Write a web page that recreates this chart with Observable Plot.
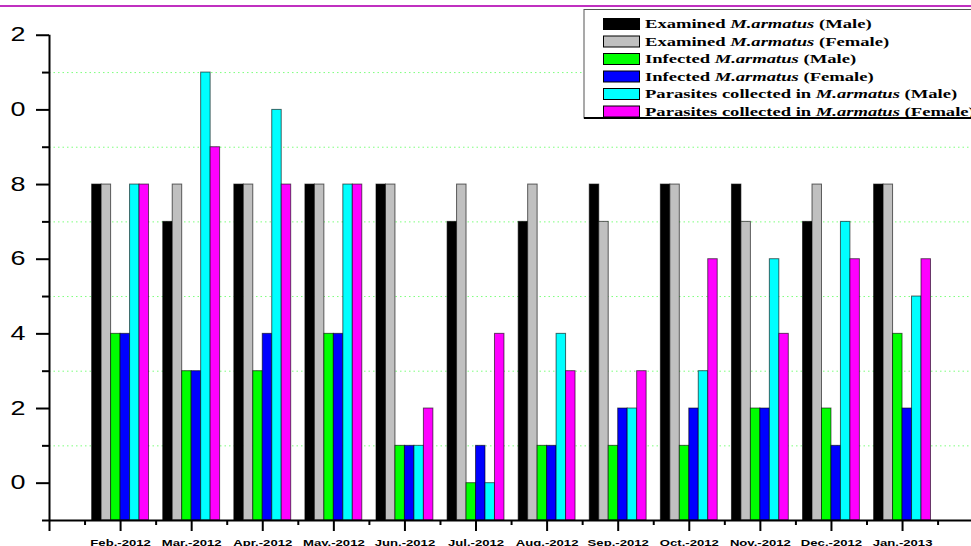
<!DOCTYPE html>
<html>
<head>
<meta charset="utf-8">
<script src="https://cdn.jsdelivr.net/npm/d3@7"></script>
<script src="https://cdn.jsdelivr.net/npm/@observablehq/plot@0.6"></script>
<style>
  html, body { margin: 0; padding: 0; background: #fff; overflow: hidden; }
  #wrap { position: relative; width: 971px; height: 546px; overflow: hidden; background: #fff; }
  #chart svg { display: block; }
  #topline { position: absolute; left: 0; top: 5px; width: 971px; height: 2px; background: #c030c0; }
  #legend { position: absolute; left: 0; top: 0; overflow: visible; }
</style>
</head>
<body>
<div id="wrap">
  <div id="chart"></div>
  <div id="topline"></div>
  <svg id="legend" width="971" height="130"></svg>
</div>
<script>
// ---- data ----
const months = ["Feb.-2012", "Mar.-2012", "Apr.-2012", "May.-2012", "Jun.-2012", "Jul.-2012",
                "Aug.-2012", "Sep.-2012", "Oct.-2012", "Nov.-2012", "Dec.-2012", "Jan.-2013"];
const seriesNames = [
  "Examined M.armatus (Male)",
  "Examined M.armatus (Female)",
  "Infected M.armatus (Male)",
  "Infected M.armatus (Female)",
  "Parasites collected in M.armatus (Male)",
  "Parasites collected in M.armatus (Female)"
];
const seriesColors = ["#000000", "#c0c0c0", "#00ff00", "#0000ff", "#00ffff", "#ff00ff"];
const examinedMale     = [8, 7, 8, 8, 8, 7, 7, 8, 8, 8, 7, 8];
const examinedFemale   = [8, 8, 8, 8, 8, 8, 8, 7, 8, 7, 8, 8];
const infectedMale     = [4, 3, 3, 4, 1, 0, 1, 1, 1, 2, 2, 4];
const infectedFemale   = [4, 3, 4, 4, 1, 1, 1, 2, 2, 2, 1, 2];
const parasitesMale    = [8, 11, 10, 8, 1, 0, 4, 2, 3, 6, 7, 5];
const parasitesFemale  = [8, 9, 8, 8, 2, 4, 3, 3, 6, 4, 6, 6];
const yMajorTicks = [0, 2, 4, 6, 8, 10, 12];
const yMinorTicks = [-1, 1, 3, 5, 7, 9, 11];
const gridValues  = [1, 3, 5, 7, 9, 11];
const species = "M.armatus";

// ---- derived table ----
const seriesValues = [examinedMale, examinedFemale, infectedMale, infectedFemale, parasitesMale, parasitesFemale];
const groupWidth = 0.8;
const barWidth = groupWidth / seriesNames.length;
const rows = months.flatMap((m, i) => seriesValues.map((vals, s) => ({
  month: m,
  series: seriesNames[s],
  x1: i - groupWidth / 2 + s * barWidth,
  x2: i - groupWidth / 2 + (s + 1) * barWidth,
  value: vals[i]
})));
const xMajor = [-1, ...months.map((m, i) => i)];
const xMinor = [-1, ...months.map((m, i) => i)].map(i => i + 0.5);
const yBase = d3.min(yMinorTicks);

const chart = Plot.plot({
  width: 971,
  height: 546,
  marginLeft: 49,
  marginRight: 0,
  marginTop: 6,
  marginBottom: 26,
  x: {type: "linear", domain: [-1, 11.97], label: null},
  y: {domain: [yBase, 12.77], label: null},
  color: {domain: seriesNames, range: seriesColors},
  style: {fontFamily: "'Liberation Sans', Arial, sans-serif", color: "#000", background: "transparent", overflow: "visible"},
  marks: [
    Plot.ruleY(gridValues, {stroke: "#7dff7d", strokeDasharray: "1.5,3", strokeWidth: 1}),
    Plot.rect(rows, {x1: "x1", x2: "x2", y1: yBase, y2: "value", fill: "series",
                     stroke: "#000", strokeOpacity: 0.6, strokeWidth: 1}),
    Plot.ruleY([yBase], {stroke: "#000", strokeWidth: 2}),
    Plot.ruleX([-1], {y1: yBase, y2: 12, stroke: "#000", strokeWidth: 2}),
    Plot.axisY(yMajorTicks, {tickSize: 13, tickPadding: 11, tickFormat: d => String(d % 10),
                             fontSize: 19.5, strokeWidth: 2}),
    Plot.axisY(yMinorTicks, {tickSize: 7, tickFormat: () => "", strokeWidth: 2}),
    Plot.axisX(xMajor, {tickSize: 11, tickPadding: 8, tickFormat: i => months[i] ?? "",
                        fontSize: 9.5, fontWeight: "bold", strokeWidth: 2}),
    Plot.axisX(xMinor, {tickSize: 5, tickFormat: () => "", strokeWidth: 2})
  ]
});
document.getElementById("chart").appendChild(chart);

// horizontal stretch of axis text (the reference is horizontally stretched)
function stretch(sel, s) {
  chart.querySelectorAll(sel).forEach(t => {
    if (!t.textContent) return;
    const len = t.getComputedTextLength();
    if (len > 0) {
      t.setAttribute("textLength", (len * s).toFixed(2));
      t.setAttribute("lengthAdjust", "spacingAndGlyphs");
    }
  });
}
stretch('g[aria-label="y-axis tick label"] text', 1.38);
stretch('g[aria-label="x-axis tick label"] text', 1.38);

// ---- legend ----
const lg = d3.select("#legend");
lg.append("rect").attr("x", 584).attr("y", 9.5).attr("width", 420).attr("height", 108.5)
  .attr("fill", "#fff").attr("stroke", "#555").attr("stroke-width", 1);
lg.append("line").attr("x1", 584).attr("x2", 971).attr("y1", 118).attr("y2", 118)
  .attr("stroke", "#000").attr("stroke-width", 2);
seriesNames.forEach((name, i) => {
  const top = 18.5 + 17.5 * i;
  lg.append("rect").attr("x", 603.5).attr("y", top).attr("width", 36).attr("height", 11)
    .attr("fill", seriesColors[i]).attr("stroke", "#000").attr("stroke-width", 1);
  const parts = name.split(species);
  const t = lg.append("text")
    .attr("transform", `translate(645,${28 + 17.5 * i}) scale(1.43,1)`)
    .attr("font-family", "'Liberation Serif', 'Times New Roman', serif")
    .attr("font-weight", "bold").attr("font-size", 13).attr("fill", "#000");
  t.append("tspan").text(parts[0]);
  t.append("tspan").attr("font-style", "italic").text(species);
  t.append("tspan").text(parts[1]);
});
</script>
</body>
</html>
